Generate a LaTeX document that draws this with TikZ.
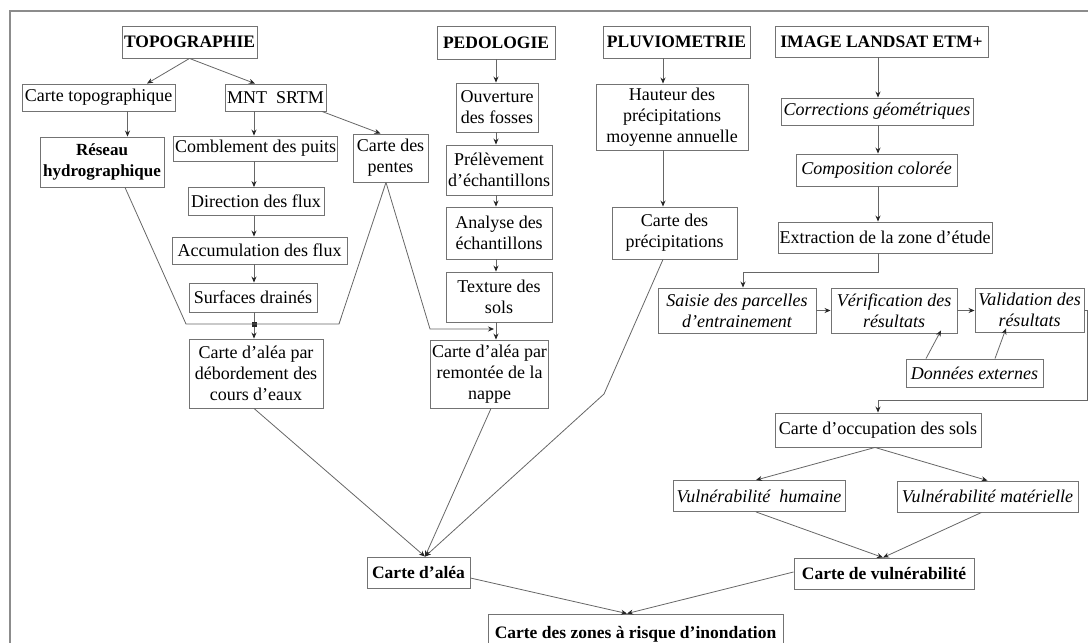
\documentclass[tikz,border=0pt]{standalone}
\usepackage{fontspec}
\setmainfont{Liberation Serif}
\usetikzlibrary{positioning,arrows.meta}

\begin{document}
\begin{tikzpicture}[
  x=1pt, y=-1pt,
  font=\fontsize{18}{21}\selectfont,
  boite/.style={draw=black!55, line width=0.9pt, align=center, inner sep=1.5pt, text=black},
  taille/.style 2 args={minimum width=#1pt, minimum height=#2pt},
  titre/.style={boite, font=\fontsize{17.5}{21}\selectfont\bfseries},
  ital/.style={font=\fontsize{18}{21}\selectfont\itshape},
  fleche/.style={draw=black!60, line width=0.8pt, -{Stealth[length=6pt,width=5pt,color=black!85]}},
  trait/.style={draw=black!60, line width=0.8pt}
  ]

  \useasboundingbox (0,0) rectangle (1088,643);
  \clip (0,0) rectangle (1088,643);
  \draw[black!45, line width=1.2pt] (10,11) rectangle (1100,660);

  % topographie
  \node[titre, taille={135}{32}] (topo) at (189.5,42) {TOPOGRAPHIE};
  \node[boite, taille={153}{27}] (cartetopo) at (98.5,97.5) {Carte topographique};
  \node[boite, taille={101}{27}] (mnt) at (275.5,97.5) {MNT\ \ SRTM};
  \node[boite, taille={124}{50}, font=\fontsize{17}{21}\selectfont\bfseries] (reseau) at (102,162) {Réseau\\hydrographique};
  \node[boite, taille={163}{25}] (comblement) at (255.5,148.5) {Comblement des puits};
  \node[boite, taille={75}{48}] (pentes) at (390.5,158) {Carte des\\pentes};
  \node[boite, taille={136}{28}] (direction) at (256,201.5) {Direction des flux};
  \node[boite, taille={175}{27}] (accumulation) at (259.5,250.5) {Accumulation des flux};
  \node[boite, taille={128}{29}] (surfaces) at (253,297.5) {Surfaces drainés};
  \coordinate (jonction) at (254,324);
  \node[boite, taille={134}{69}] (debordement) at (256,373.5) {Carte d’aléa par\\débordement des\\cours d’eaux};

  % pedologie
  \node[titre, taille={118}{33}] (pedo) at (496,42.5) {PEDOLOGIE};
  \node[boite, taille={82}{49}] (ouverture) at (497,107.5) {Ouverture\\des fosses};
  \node[boite, taille={106}{50}] (prelevement) at (499,170) {Prélèvement\\d’échantillons};
  \node[boite, taille={106}{52}] (analyse) at (499,233) {Analyse des\\échantillons};
  \node[boite, taille={106}{50}] (texture) at (499,297) {Texture des\\sols};
  \node[boite, taille={113}{68}] (remontee) at (489.5,374) {Carte d’aléa par\\remontée de la\\nappe};

  % pluviometrie
  \node[titre, taille={147}{32}] (pluvio) at (676.5,42) {PLUVIOMETRIE};
  \node[boite, taille={152}{66}] (hauteur) at (672,117) {Hauteur des\\précipitations\\moyenne annuelle};
  \node[boite, taille={125}{52}] (precip) at (674.5,233) {Carte des\\précipitations};

  % landsat
  \node[titre, taille={213}{31}] (landsat) at (881.5,41.5) {IMAGE LANDSAT ETM+};
  \node[boite, ital, taille={192}{27}] (corrections) at (877,111.5) {Corrections géométriques};
  \node[boite, ital, taille={161}{32}] (composition) at (876.5,170) {Composition colorée};
  \node[boite, taille={214}{31}] (extraction) at (885,237.5) {Extraction de la zone d’étude};
  \node[boite, ital, taille={158}{45}] (saisie) at (737,310.5) {Saisie des parcelles\\d’entrainement};
  \node[boite, ital, taille={126}{45}] (verification) at (894,310.5) {Vérification des\\résultats};
  \node[boite, ital, taille={109}{44}] (validation) at (1029.5,310) {Validation des\\résultats};
  \node[boite, ital, taille={137}{28}] (donnees) at (974.5,373) {Données externes};
  \node[boite, taille={206}{34}] (occupation) at (878,430) {Carte d’occupation des sols};
  \node[boite, ital, taille={172}{31}] (humaine) at (759,496) {Vulnérabilité\ \ humaine};
  \node[boite, ital, taille={181}{31}] (materielle) at (987.5,496.5) {Vulnérabilité matérielle};
  \node[titre, taille={180}{31}] (vulnerabilite) at (884,573.5) {Carte de vulnérabilité};

  % syntheses
  \node[titre, taille={103}{31}] (alea) at (418.5,572.5) {Carte d’aléa};
  \node[titre, taille={295}{40}] (zones) at (635.5,634) {Carte des zones à risque d’inondation};

  \coordinate (axepluvio) at (663,0);
  \coordinate (axesat) at (878,0);
  \coordinate (g1) at (186,324);
  \coordinate (g2) at (339,324);
  \coordinate (p1) at (430,329);
  \coordinate (p2) at (494,329);
  \coordinate (c1) at (604,394);
  \coordinate (e1) at (878,272);
  \coordinate (e2) at (743,272);
  \coordinate (v1) at (1087,310);
  \coordinate (v2) at (1087,400);

  \draw[fleche] (topo.south) -- ([xshift=48.5pt]cartetopo.north);
  \draw[fleche] (topo.south) -- ([xshift=-20.5pt]mnt.north);
  \draw[fleche] ([xshift=29pt]cartetopo.south) -- ([xshift=29pt]cartetopo.south |- reseau.north);
  \draw[fleche] (mnt.south -| jonction) -- (comblement.north -| jonction);
  \draw[fleche] ([xshift=46.5pt]mnt.south) -- ([xshift=-10pt]pentes.north);
  \draw[fleche] (comblement.south -| jonction) -- (direction.north -| jonction);
  \draw[fleche] (direction.south -| jonction) -- (accumulation.north -| jonction);
  \draw[fleche] (accumulation.south -| jonction) -- (surfaces.north -| jonction);
  \draw[trait] (surfaces.south -| jonction) -- (jonction);
  \draw[fleche] (jonction) -- (debordement.north -| jonction);
  \fill[black!85] (jonction) +(-2.5,-2.5) rectangle +(2.5,2.5);
  \draw[trait] ([xshift=23pt]reseau.south) -- (g1) -- (g2) -- ([xshift=-4.5pt]pentes.south);
  \draw[fleche] ([xshift=-4.5pt]pentes.south) -- (p1) -- (p2);

  \draw[fleche] (pedo.south) -- (pedo.south |- ouverture.north);
  \draw[fleche] (ouverture.south -| pedo) -- (prelevement.north -| pedo);
  \draw[fleche] (prelevement.south -| pedo) -- (analyse.north -| pedo);
  \draw[fleche] (analyse.south -| pedo) -- (texture.north -| pedo);
  \draw[fleche] (texture.south -| pedo) -- (remontee.north -| pedo);

  \draw[fleche] (pluvio.south -| axepluvio) -- (hauteur.north -| axepluvio);
  \draw[fleche] (hauteur.south -| axepluvio) -- (precip.north -| axepluvio);
  \draw[fleche] (precip.south -| axepluvio) -- (c1) -- ([xshift=6.5pt]alea.north);
  \draw[fleche] ([xshift=-2pt]debordement.south) -- ([xshift=6.5pt]alea.north);
  \draw[fleche] ([xshift=1.5pt]remontee.south) -- ([xshift=6.5pt]alea.north);

  \draw[fleche] (landsat.south -| axesat) -- (corrections.north -| axesat);
  \draw[fleche] (corrections.south -| axesat) -- (composition.north -| axesat);
  \draw[fleche] (composition.south -| axesat) -- (extraction.north -| axesat);
  \draw[fleche] (extraction.south -| e1) -- (e1) -- (e2) -- (e2 |- saisie.north);
  \draw[fleche] (saisie.east) -- (verification.west);
  \draw[fleche] (verification.east) -- (validation.west |- verification.east);
  \draw[fleche] ([xshift=-48.5pt]donnees.north) -- ([xshift=47pt,yshift=3pt]verification.south);
  \draw[fleche] ([xshift=20.5pt]donnees.north) -- ([xshift=-23.5pt,yshift=4pt]validation.south);
  \draw[fleche] (validation.east) -- (v1) -- (v2) -- (v2 -| occupation.north) -- (occupation.north);

  \draw[fleche] ([xshift=-3pt]occupation.south) -- ([xshift=-3pt]humaine.north);
  \draw[fleche] ([xshift=-3pt]occupation.south) -- (materielle.north);
  \draw[fleche] ([xshift=-3pt]humaine.south) -- ([xshift=-1pt]vulnerabilite.north);
  \draw[fleche] ([xshift=-6pt]materielle.south) -- ([xshift=-1pt]vulnerabilite.north);
  \draw[fleche] ([yshift=1.5pt]vulnerabilite.west) -- ([xshift=-8.5pt]zones.north);
  \draw[fleche] ([yshift=-5.5pt]alea.east) -- ([xshift=-8.5pt]zones.north);

\end{tikzpicture}
\end{document}
